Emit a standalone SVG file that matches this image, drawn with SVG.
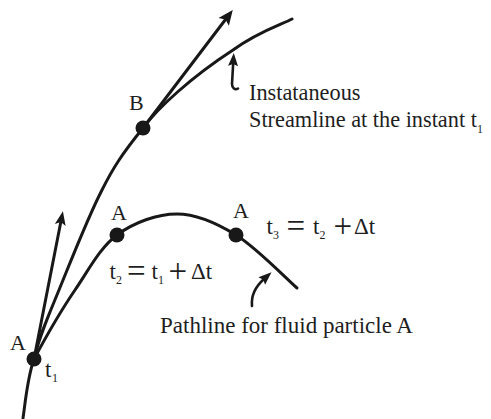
<svg xmlns="http://www.w3.org/2000/svg" width="491" height="419" viewBox="0 0 491 419">
<defs>
<style>
.ln{fill:none;stroke:#181818;stroke-width:3;stroke-linecap:round}
.pt{fill:none;stroke:#181818;stroke-width:2.6;stroke-linecap:round}
.dot{fill:#181818}
text{font-family:"Liberation Serif","Times New Roman",serif;font-size:23px;fill:#1e1e1e}
.lbl{font-size:22px}
.sl{font-size:22.3px}
.sub{font-size:12px}
.op{font-size:33px}
</style>
<marker id="hl" markerUnits="userSpaceOnUse" markerWidth="20" markerHeight="20" viewBox="-4 -8 20 16" refX="3" refY="0" orient="auto">
<path d="M0,-6.5 L15,0 L0,6.5 L3,0 Z" fill="#181818"/>
</marker>
<marker id="hs" markerUnits="userSpaceOnUse" markerWidth="20" markerHeight="20" viewBox="-4 -8 20 16" refX="3" refY="0" orient="auto">
<path d="M0,-5.5 L14,0 L0,5.5 L3,0 Z" fill="#181818"/>
</marker>
<marker id="hp" markerUnits="userSpaceOnUse" markerWidth="20" markerHeight="20" viewBox="-4 -8 20 16" refX="3" refY="0" orient="auto">
<path d="M0,-5 L13,0 L0,5 L2,0 Z" fill="#181818"/>
</marker>
</defs>
<rect width="491" height="419" fill="#ffffff"/>
<g id="connectors">
<path id="streamline" class="ln" d="M23,418 C24.7,408 27,379 34,359 C39,337 47.5,318 59,290 C70.5,262 88,217 102,190 C113,168 122,154 143,128 C158,108 190,78 233,50 C257.8,31.8 282.2,24.2 292,19"/>
<path id="pathline" class="ln" d="M34,359 C41,346 61,310.5 75,290 C89,269.5 100,247.7 117,235 C134,222.3 157.2,214 177,214 C196.8,214 216,222.7 236,235 C256,247.3 286.8,279.2 297,288"/>
<path id="vel-A" class="ln" d="M34,359 L60.8,222" marker-end="url(#hs)"/>
<path id="vel-B" class="ln" d="M143,128 L225.5,19.5" marker-end="url(#hl)"/>
<path id="ptr-stream" class="pt" d="M238,88.5 C235,90.5 232,88 232,84 L233.2,63" marker-end="url(#hp)"/>
<path id="ptr-path" class="pt" d="M252,306 C251,296 255,287 264,279" marker-end="url(#hp)"/>
</g>
<g id="node-A1">
<circle class="dot" cx="34" cy="359" r="7.5"/>
<text class="lbl" x="10" y="350">A</text>
<text x="45" y="377">t<tspan class="sub" x="52" y="382">1</tspan></text>
</g>
<g id="node-B">
<circle class="dot" cx="143" cy="128" r="7.5"/>
<text class="lbl" x="129" y="110">B</text>
</g>
<g id="node-A2">
<circle class="dot" cx="117" cy="235" r="7.5"/>
<text class="lbl" x="111" y="220">A</text>
<text x="109.5" y="279">t<tspan class="sub" x="116" y="284">2</tspan><tspan class="op" x="127" y="281.5">=</tspan><tspan x="151.5" y="279">t</tspan><tspan class="sub" x="158" y="284">1</tspan><tspan class="op" x="168.5" y="281.5">+</tspan><tspan x="191" y="279">Δt</tspan></text>
</g>
<g id="node-A3">
<circle class="dot" cx="236" cy="235" r="7.5"/>
<text class="lbl" x="233" y="218">A</text>
<text x="266.5" y="234">t<tspan class="sub" x="273" y="239">3</tspan><tspan class="op" x="286.5" y="236.5">=</tspan><tspan x="313" y="234">t</tspan><tspan class="sub" x="319.5" y="239">2</tspan><tspan class="op" x="333.5" y="236.5">+</tspan><tspan x="354" y="234">Δt</tspan></text>
</g>
<g id="label-streamline">
<text class="sl" x="249" y="100">Instataneous</text>
<text class="sl" x="249" y="127">Streamline at the instant t<tspan class="sub" dx="0" y="133">1</tspan></text>
</g>
<g id="label-pathline">
<text x="160" y="333">Pathline for fluid particle A</text>
</g>
</svg>
